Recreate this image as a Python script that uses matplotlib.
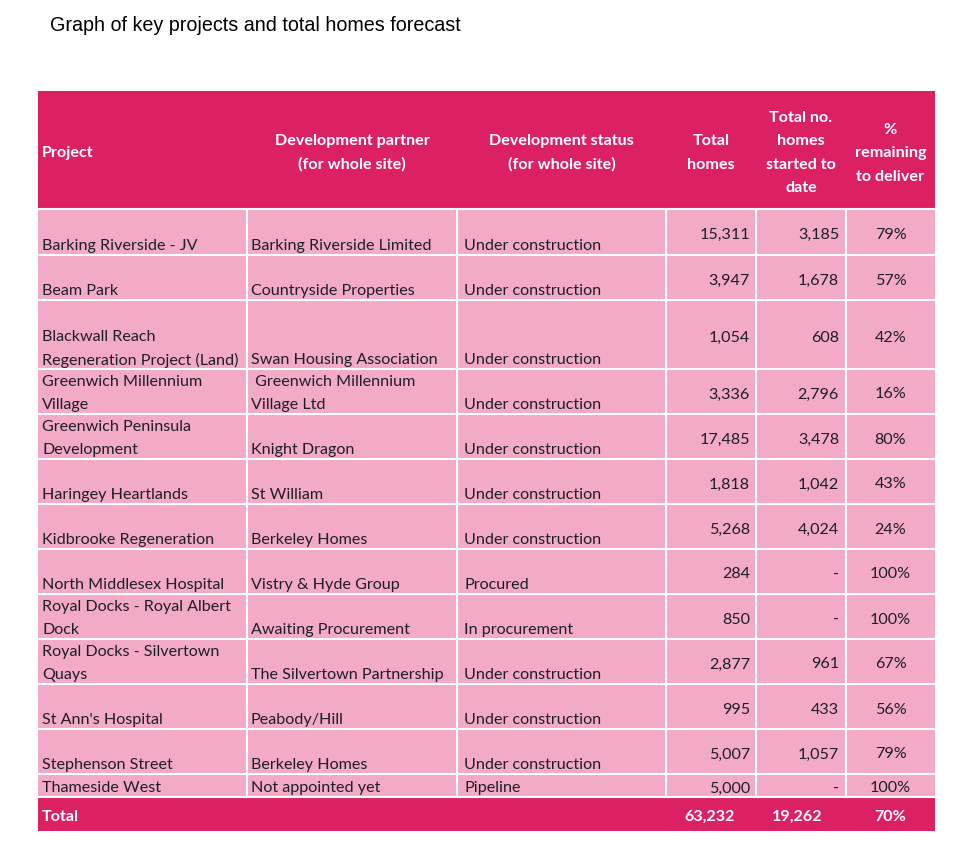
import matplotlib.pyplot as plt
from matplotlib.patches import Rectangle

plt.rcParams['font.family'] = ['Lato', 'DejaVu Sans']

# ---- table data ----
projects = ['Barking Riverside - JV', 'Beam Park',
            'Blackwall Reach\nRegeneration Project (Land)',
            'Greenwich Millennium\nVillage',
            'Greenwich Peninsula\nDevelopment',
            'Haringey Heartlands', 'Kidbrooke Regeneration',
            'North Middlesex Hospital',
            'Royal Docks - Royal Albert\nDock',
            'Royal Docks - Silvertown\nQuays',
            "St Ann's Hospital", 'Stephenson Street', 'Thameside West']
partners = ['Barking Riverside Limited', 'Countryside Properties',
            'Swan Housing Association',
            ' Greenwich Millennium\nVillage Ltd',
            'Knight Dragon', 'St William', 'Berkeley Homes',
            'Vistry & Hyde Group', 'Awaiting Procurement',
            'The Silvertown Partnership', 'Peabody/Hill', 'Berkeley Homes',
            'Not appointed yet']
statuses = ['Under construction', 'Under construction', 'Under construction',
            'Under construction', 'Under construction', 'Under construction',
            'Under construction', 'Procured', 'In procurement',
            'Under construction', 'Under construction', 'Under construction',
            'Pipeline']
total_homes = [15311, 3947, 1054, 3336, 17485, 1818, 5268, 284, 850,
               2877, 995, 5007, 5000]
started = [3185, 1678, 608, 2796, 3478, 1042, 4024, None, None,
           961, 433, 1057, None]
remaining_pct = [79, 57, 42, 16, 80, 43, 24, 100, 100, 67, 56, 79, 100]
total_row = ['Total', 63232, 19262, 70]

headers = ['Project', 'Development partner\n(for whole site)',
           'Development status\n(for whole site)', 'Total\nhomes',
           'Total no.\nhomes\nstarted to\ndate',
           '%\nremaining\nto deliver']

title = 'Graph of key projects and total homes forecast'

# ---- layout (pixels) ----
W, H = 964, 853
col_edges = [38, 247, 457, 666, 756, 846, 935]
head_top, head_bot = 92, 210
row_px = [46, 45, 69, 45, 45, 45, 45, 45, 45, 45, 45, 45, 23]
total_h = 34

HEAD_C = '#DC2163'
BODY_C = '#F2AAC6'
TXT_C = '#1E1E2A'
FS = 11.6

fig = plt.figure(figsize=(W / 100, H / 100), dpi=100)
ax = fig.add_axes([0, 0, 1, 1])
ax.set_xlim(0, W)
ax.set_ylim(H, 0)
ax.axis('off')

ax.text(50, 25, title, fontsize=14.2, family='Liberation Sans',
        ha='left', va='center', color='black')

# header
ax.add_patch(Rectangle((col_edges[0], head_top), col_edges[-1] - col_edges[0],
                       head_bot - head_top, color=HEAD_C, lw=0))
mid = (head_top + head_bot) / 2 + 2
for c, h in enumerate(headers):
    lines = h.split('\n')
    n = len(lines)
    for i, ln in enumerate(lines):
        y = mid + (i - (n - 1) / 2) * 23.5
        if c == 0:
            ax.text(col_edges[0] + 4, y, ln, ha='left', va='center',
                    fontsize=FS, fontweight='bold', color='white')
        else:
            xc = (col_edges[c] + col_edges[c + 1]) / 2
            ax.text(xc, y, ln, ha='center', va='center',
                    fontsize=FS, fontweight='bold', color='white')

# body rows
y0 = head_bot
bottoms = []
for r in range(len(projects)):
    h = row_px[r]
    top, bot = y0, y0 + h
    ax.add_patch(Rectangle((col_edges[0], top), col_edges[-1] - col_edges[0],
                           h, color=BODY_C, lw=0))
    for c, txt in enumerate([projects[r], partners[r], statuses[r]]):
        lines = txt.split('\n')
        n = len(lines)
        pad = 4 if c == 0 else (7 if c == 2 else 4)
        for i, ln in enumerate(lines):
            y = bot - 10 - (n - 1 - i) * 23
            ax.text(col_edges[c] + pad, y, ln, ha='left', va='center',
                    fontsize=FS, color=TXT_C)
    yc = (top + bot) / 2 + 2
    ax.text(col_edges[4] - 6, yc, f'{total_homes[r]:,}', ha='right',
            va='center', fontsize=FS, color=TXT_C)
    s = '-' if started[r] is None else f'{started[r]:,}'
    ax.text(col_edges[5] - 7, yc, s, ha='right', va='center',
            fontsize=FS, color=TXT_C)
    ax.text((col_edges[5] + col_edges[6]) / 2, yc, f'{remaining_pct[r]}%',
            ha='center', va='center', fontsize=FS, color=TXT_C)
    bottoms.append(bot)
    y0 = bot

# total row
ax.add_patch(Rectangle((col_edges[0], y0), col_edges[-1] - col_edges[0],
                       total_h, color=HEAD_C, lw=0))
yt = y0 + total_h / 2 + 2
ax.text(col_edges[0] + 4, yt, total_row[0], ha='left', va='center',
        fontsize=FS, fontweight='bold', color='white')
ax.text(col_edges[4] - 21, yt, f'{total_row[1]:,}', ha='right', va='center',
        fontsize=FS, fontweight='bold', color='white')
ax.text(col_edges[5] - 23, yt, f'{total_row[2]:,}', ha='right', va='center',
        fontsize=FS, fontweight='bold', color='white')
ax.text((col_edges[5] + col_edges[6]) / 2, yt, f'{total_row[3]}%',
        ha='center', va='center', fontsize=FS, fontweight='bold',
        color='white')

# white grid lines in the body
lw = 1.5
ax.plot([col_edges[0], col_edges[-1]], [head_bot, head_bot], color='white',
        lw=lw)
for b in bottoms:
    ax.plot([col_edges[0], col_edges[-1]], [b, b], color='white', lw=lw)
for x in col_edges[1:-1]:
    ax.plot([x, x], [head_bot, bottoms[-1]], color='white', lw=lw)

fig.savefig('out.png', dpi=100, facecolor='white')
